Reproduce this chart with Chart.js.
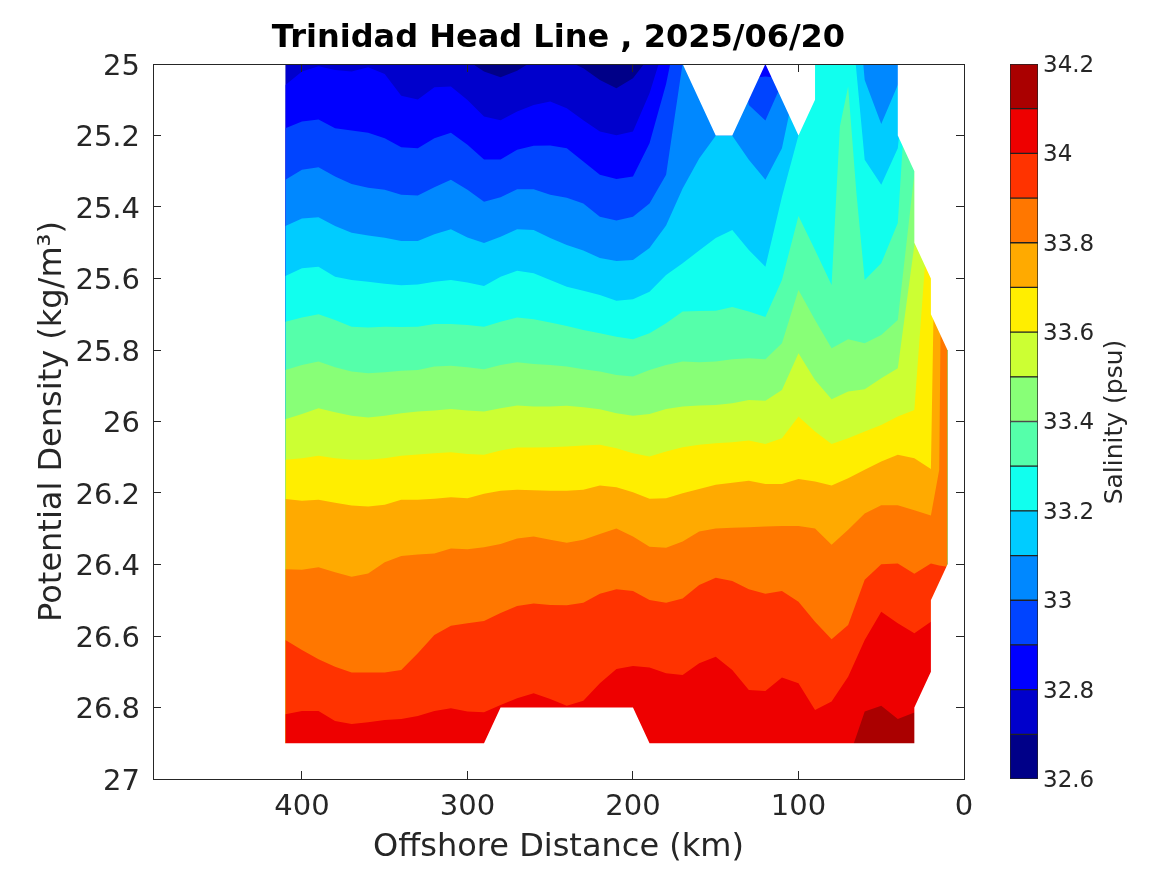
<!DOCTYPE html>
<html>
<head>
<meta charset="utf-8">
<style>
html,body{margin:0;padding:0;background:#fff;width:1167px;height:875px;overflow:hidden}
canvas{position:absolute;top:0}
#main{left:0}
#bar{left:990px}
</style>
<script src="https://cdn.jsdelivr.net/npm/chart.js@4/dist/chart.umd.min.js"></script>
</head>
<body>
<canvas id="main" width="1167" height="875"></canvas>
<canvas id="bar" width="177" height="875"></canvas>
<script>
const chartTitle = "Trinidad Head Line , 2025/06/20";
const xLabel = "Offshore Distance (km)";
const yLabel = "Potential Density (kg/m\u00B3)";
const barLabel = "Salinity (psu)";
const xTicks = [0,100,200,300,400];
const yTicks = [25,25.2,25.4,25.6,25.8,26,26.2,26.4,26.6,26.8,27];
const barTicks = [32.6,32.8,33,33.2,33.4,33.6,33.8,34,34.2];

const stations = [410,400,390,380,370,360,350,340,330,320,310,300,290,280,270,260,250,240,230,220,210,200,190,180,170,160,150,140,130,120,110,100,90,80,70,60,50,40,30,20,15,10];
const stations333 = [410,400,390,380,370,360,350,340,330,320,310,300,290,280,270,260,250,240,230,220,210,200,190,180,170,160,150,140,130,120,110,100,90,80,75,70,65,60,50,40,30,20,15,10];

const s326 = [24.8,24.8,24.8,24.8,24.8,24.8,24.8,24.8,24.8,24.8,24.8,24.8,24.8,24.8,24.8,24.8,24.8,24.8,24.8,24.8,24.8,24.8,24.8,24.8,24.8,24.8,24.8,24.8,24.8,24.8,24.8,24.8,24.8,24.8,24.8,24.8,24.8,24.8,24.8,24.8,24.8,24.8];
const s327 = [24.95,24.95,24.95,24.95,24.95,24.95,24.95,24.95,24.95,24.95,24.95,24.99,25.021,25.037,25.019,24.99,24.99,24.99,25.012,25.045,25.068,25.04,24.98,24.8,24.8,24.8,24.8,24.8,24.8,24.8,24.8,24.8,24.8,24.8,24.8,24.8,24.8,24.8,24.8,24.8,24.8,24.8];
const s328 = [25.059,25.021,25.006,25.017,25.021,25.009,25.028,25.089,25.099,25.065,25.063,25.101,25.147,25.157,25.133,25.115,25.105,25.124,25.157,25.189,25.199,25.189,25.082,24.933,24.8,24.8,24.8,24.8,24.8,24.8,24.8,24.8,24.8,24.8,24.8,24.8,24.8,24.8,24.8,24.8,24.8,24.8];
const s329 = [25.18,25.161,25.155,25.18,25.186,25.192,25.208,25.233,25.236,25.208,25.192,25.226,25.267,25.267,25.24,25.229,25.228,25.236,25.273,25.31,25.322,25.315,25.222,25.056,24.83,24.8,24.8,24.8,25.04,25.035,25.04,24.8,24.8,24.8,24.8,24.8,24.8,24.8,24.8,24.8,24.8,24.8];
const s330 = [25.324,25.296,25.289,25.315,25.336,25.346,25.352,25.366,25.368,25.345,25.324,25.352,25.385,25.373,25.35,25.35,25.366,25.374,25.39,25.427,25.438,25.427,25.39,25.31,24.998,24.8,24.8,24.8,25.115,25.158,25.054,24.8,24.8,24.8,24.8,24.8,24.8,24.8,24.8,24.8,24.8,24.8];
const s331 = [25.453,25.432,25.429,25.453,25.472,25.48,25.486,25.495,25.495,25.476,25.462,25.485,25.501,25.483,25.462,25.464,25.487,25.506,25.522,25.543,25.551,25.548,25.515,25.452,25.348,25.264,25.201,25.201,25.268,25.324,25.236,25.017,24.9,24.8,24.523,25.045,25.168,25.059,24.8,24.8,24.8,24.8];
const s332 = [25.593,25.571,25.567,25.595,25.604,25.609,25.615,25.619,25.617,25.609,25.604,25.611,25.621,25.595,25.578,25.585,25.604,25.623,25.634,25.646,25.662,25.658,25.637,25.59,25.557,25.522,25.487,25.464,25.52,25.567,25.371,25.199,24.8,24.8,24.773,25.268,25.338,25.236,24.8,24.8,24.8,24.8];
const s333 = [25.721,25.709,25.7,25.716,25.735,25.737,25.735,25.736,25.735,25.727,25.727,25.73,25.735,25.721,25.709,25.714,25.723,25.733,25.744,25.753,25.763,25.77,25.753,25.725,25.692,25.691,25.69,25.68,25.692,25.708,25.604,25.425,25.52,25.618,25.175,25.063,25.361,25.604,25.557,25.445,24.719,24.7,24.7,24.7];
const s334 = [25.856,25.842,25.832,25.848,25.86,25.865,25.862,25.858,25.856,25.846,25.844,25.848,25.854,25.842,25.834,25.839,25.842,25.846,25.854,25.86,25.87,25.874,25.856,25.842,25.832,25.834,25.832,25.826,25.823,25.826,25.781,25.632,25.716,25.795,25.77,25.781,25.758,25.716,25.306,24.9,24.9,24.9];
const s335 = [25.994,25.979,25.963,25.974,25.984,25.989,25.984,25.977,25.972,25.969,25.965,25.969,25.972,25.963,25.955,25.958,25.958,25.956,25.96,25.966,25.977,25.984,25.979,25.965,25.958,25.955,25.954,25.949,25.94,25.942,25.912,25.809,25.884,25.938,25.916,25.91,25.879,25.851,25.506,25,25,25];
const s336 = [26.107,26.103,26.096,26.103,26.107,26.107,26.103,26.096,26.092,26.089,26.086,26.091,26.093,26.081,26.073,26.073,26.072,26.07,26.067,26.065,26.075,26.089,26.098,26.084,26.072,26.065,26.061,26.058,26.053,26.063,26.047,25.986,26.028,26.063,26.047,26.028,26.01,25.986,25.968,25.334,25.2,25.2];
const s337 = [26.217,26.222,26.219,26.227,26.235,26.238,26.233,26.219,26.219,26.216,26.212,26.215,26.202,26.194,26.191,26.192,26.194,26.194,26.191,26.179,26.184,26.198,26.216,26.215,26.201,26.189,26.177,26.171,26.166,26.175,26.175,26.161,26.168,26.179,26.159,26.135,26.112,26.093,26.103,26.133,24.756,24.7];
const s338 = [26.413,26.415,26.408,26.422,26.434,26.425,26.394,26.376,26.372,26.369,26.355,26.357,26.352,26.343,26.327,26.322,26.331,26.339,26.331,26.315,26.299,26.322,26.35,26.353,26.336,26.308,26.299,26.297,26.296,26.294,26.292,26.292,26.299,26.345,26.303,26.257,26.234,26.234,26.248,26.263,26.136,23.8];
const s339 = [26.611,26.639,26.665,26.686,26.702,26.702,26.702,26.695,26.648,26.597,26.571,26.564,26.558,26.536,26.516,26.509,26.513,26.514,26.507,26.482,26.469,26.474,26.499,26.507,26.495,26.457,26.437,26.446,26.469,26.482,26.474,26.504,26.56,26.609,26.569,26.443,26.399,26.397,26.426,26.397,26.403,26.406];
const s340 = [26.819,26.81,26.81,26.838,26.846,26.841,26.835,26.832,26.824,26.81,26.802,26.811,26.813,26.793,26.774,26.76,26.776,26.795,26.781,26.732,26.692,26.684,26.688,26.704,26.709,26.676,26.658,26.695,26.751,26.754,26.716,26.732,26.807,26.783,26.714,26.611,26.532,26.564,26.592,26.56,26.56,26.56];
const s341 = [27.2,27.2,27.2,27.2,27.2,27.2,27.2,27.2,27.2,27.2,27.2,27.2,27.2,27.2,27.2,27.2,27.2,27.2,27.2,27.2,27.2,27.2,27.2,27.2,27.2,27.2,27.2,27.2,27.2,27.2,27.2,27.2,27.2,27.2,26.947,26.811,26.795,26.832,26.814,26.814,26.814,26.814];

const contours = [s326,s327,s328,s329,s330,s331,s332,s333,s334,s335,s336,s337,s338,s339,s340,s341];
const levels = [32.6,32.7,32.8,32.9,33,33.1,33.2,33.3,33.4,33.5,33.6,33.7,33.8,33.9,34,34.1];
const bandColors = ['#000088','#0000CC','#0000FF','#0044FF','#0088FF','#00CCFF','#11FFEE','#55FFAA','#88FF77','#CCFF33','#FFEE00','#FFAA00','#FF7700','#FF3300','#EE0000','#AA0000'];

// edges of the sampled region (no data beyond them)
const topEdgeX = [170,150,140,120,100,90,90,40,40,30,30,20,20,10,9];
const topEdgeY = [25,25.2,25.2,25,25.2,25.1,25,25,25.2,25.3,25.5,25.6,25.7,25.8,25.8];
const bottomEdgeX = [411,410,290,280,200,190,30,30,20,20,10,9];
const bottomEdgeY = [26.9,26.9,26.9,26.8,26.8,26.9,26.9,26.8,26.7,26.5,26.4,26.4];

const FONT = '"DejaVu Sans"';
const INK = '#262626';
Chart.defaults.font.family = FONT;
Chart.defaults.color = INK;

const pairs = (xs, ys) => xs.map((x, i) => ({x, y: ys[i]}));
const area = (data, fill, backgroundColor, order) => ({
  data, fill, backgroundColor, order,
  showLine: true, pointRadius: 0, borderWidth: 0, borderColor: 'transparent', tension: 0
});

const datasets = contours.map((c, i) =>
  area(pairs(c === s333 ? stations333 : stations, c), {value: 28}, bandColors[i], 100 - i));
datasets.push(area(pairs(topEdgeX, topEdgeY), {value: 24}, '#ffffff', 2));
datasets.push(area(pairs(bottomEdgeX, bottomEdgeY), {value: 28}, '#ffffff', 1));

const axisGrid = {drawOnChartArea: false, drawTicks: true, tickLength: -8, color: INK, lineWidth: 1, z: 1};
const axisBorder = {display: true, color: INK, width: 1, z: 1};
const setTicks = list => s => { s.ticks = list.map(value => ({value})); };
const fmt = v => String(Math.round(v * 10) / 10);

new Chart(document.getElementById('main'), {
  type: 'scatter',
  data: {datasets},
  options: {
    responsive: false, animation: false, devicePixelRatio: 1,
    layout: {padding: 0},
    plugins: {
      legend: {display: false},
      tooltip: {enabled: false},
      title: {display: true, fullSize: false, text: chartTitle, color: '#000', font: {size: 32, weight: 'bold', lineHeight: 1}, padding: {top: 23, bottom: 9}}
    },
    scales: {
      x: {
        type: 'linear', position: 'bottom', reverse: true, min: 0, max: 490,
        afterBuildTicks: setTicks(xTicks), afterFit: s => { s.height = 96; },
        grid: axisGrid, border: axisBorder,
        ticks: {padding: 19, maxRotation: 0, font: {size: 29}, color: INK, callback: fmt},
        title: {display: true, text: xLabel, font: {size: 32}, color: INK, padding: {top: 0, bottom: 8}, align: 'center'}
      },
      y: {
        type: 'linear', position: 'left', reverse: true, min: 25, max: 27,
        afterBuildTicks: setTicks(yTicks), afterFit: s => { s.width = 153; },
        grid: axisGrid, border: axisBorder,
        ticks: {padding: 21, labelOffset: 3, font: {size: 29}, color: INK, callback: fmt},
        title: {display: true, text: yLabel, font: {size: 32}, color: INK, padding: {top: 33, bottom: 0}}
      },
      x2: {
        type: 'linear', position: 'top', reverse: true, min: 0, max: 490,
        afterBuildTicks: setTicks(xTicks), afterFit: s => { s.height = 0; },
        grid: axisGrid, border: axisBorder, ticks: {display: false}
      },
      y2: {
        type: 'linear', position: 'right', reverse: true, min: 25, max: 27,
        afterBuildTicks: setTicks(yTicks), afterFit: s => { s.width = 203; },
        grid: axisGrid, border: axisBorder, ticks: {display: false}
      }
    }
  }
});

const barTitle = {
  id: 'barTitle',
  afterDraw(chart) {
    const {ctx} = chart;
    ctx.save();
    ctx.translate(125, 422);
    ctx.rotate(-Math.PI / 2);
    ctx.font = '25px ' + FONT;
    ctx.fillStyle = INK;
    ctx.textAlign = 'center';
    ctx.textBaseline = 'middle';
    ctx.fillText(barLabel, 0, 0);
    ctx.restore();
  }
};

new Chart(document.getElementById('bar'), {
  type: 'bar',
  data: {
    labels: [''],
    datasets: levels.map((lo, i) => ({
      data: [[lo, levels[i + 1] ?? barTicks[barTicks.length - 1]]],
      backgroundColor: bandColors[i],
      borderColor: '#222222', borderWidth: 1, borderSkipped: false,
      barPercentage: 1, categoryPercentage: 1, grouped: false
    }))
  },
  plugins: [barTitle],
  options: {
    responsive: false, animation: false, devicePixelRatio: 1,
    layout: {padding: {left: 20, right: 0, top: 64, bottom: 96}},
    plugins: {legend: {display: false}, tooltip: {enabled: false}},
    scales: {
      x: {display: false},
      y: {
        type: 'linear', position: 'right', min: 32.6, max: 34.2,
        afterBuildTicks: setTicks(barTicks), afterFit: s => { s.width = 129; },
        grid: {drawOnChartArea: false, drawTicks: false},
        border: {display: false},
        ticks: {padding: 5, labelOffset: 2, font: {size: 23}, color: INK, callback: fmt}
      }
    }
  }
});
</script>
</body>
</html>
